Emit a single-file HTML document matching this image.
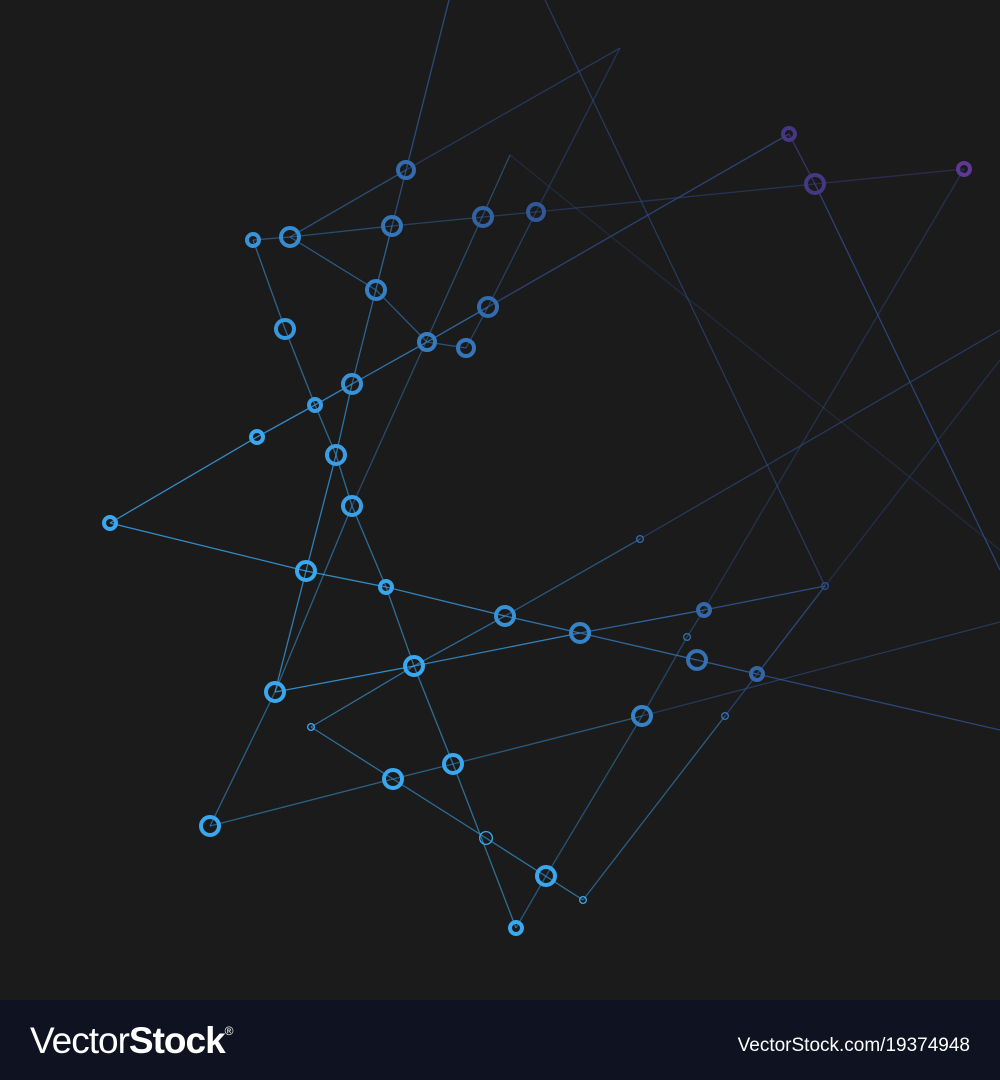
<!DOCTYPE html>
<html><head><meta charset="utf-8">
<style>
html,body{margin:0;padding:0;background:#1b1b1b;}
#wrap{position:relative;width:1000px;height:1080px;overflow:hidden;background:#1b1b1b;font-family:"Liberation Sans",sans-serif;}
#footer{position:absolute;left:0;top:1000px;width:1000px;height:80px;background:#0f1220;}
#brand{position:absolute;left:30px;top:20px;color:#fff;font-size:37px;letter-spacing:-1px;}
#brand b{font-weight:700;}
#brand sup{font-size:12px;vertical-align:top;position:relative;top:4px;}
#url{position:absolute;right:30px;top:35px;color:#fff;font-size:19px;}
</style></head>
<body>
<div id="wrap">
<svg id="net" width="1000" height="1000"></svg>
<div id="footer">
<div id="brand">Vector<b>Stock</b><sup>®</sup></div>
<div id="url">VectorStock.com/19374948</div>
</div>
</div>
<script>
const lines = [
 [[449,0],[392,226],[352,384],[336,455],[306,571],[275,692]],
 [[620,48],[406,170],[290,237]],
 [[620,48],[536,212],[488,307],[466,348]],
 [[545,0],[825,586],[725,716],[583,900],[486,838],[393,779],[311,727],[414,666],[505,616],[640,539],[1000,330]],
 [[110,523],[257,437],[315,405],[352,384],[427,342],[488,307],[789,134],[815,184],[1000,570]],
 [[110,523],[306,571],[386,587],[505,616],[580,633],[697,660],[757,674],[1000,730]],
 [[253,240],[290,237],[392,226],[483,217],[536,212],[815,184],[964,169]],
 [[253,240],[285,329],[315,405],[336,455],[352,506],[386,587],[414,666],[453,764],[516,928]],
 [[290,237],[376,290],[427,342],[466,348]],
 [[510,155],[1000,550]],
 [[510,155],[352,506],[275,692],[210,826]],
 [[275,692],[414,666],[580,633],[704,610],[825,586]],
 [[210,826],[393,779],[453,764],[642,716],[1000,622]],
 [[516,928],[546,876],[642,716],[687,637],[704,610],[964,169]],
 [[757,674],[1000,360]]
];
const lineOpacity = [0.7,0.55,0.5,0.6,0.8,0.8,0.5,0.6,0.6,0.3,0.5,0.8,0.5,0.45,0.4];
const nodeX = [253,290,406,392,483,536,376,488,427,466,285,352,315,257,336,352,110,306,386,505,580,414,275,697,704,757,642,311,393,453,210,486,546,583,516,789,815,964,640,825,725,687];
const nodeY = [240,237,170,226,217,212,290,307,342,348,329,384,405,437,455,506,523,571,587,616,633,666,692,660,610,674,716,727,779,764,826,838,876,900,928,134,184,169,539,586,716,637];
const nodeR = [8,11,10,11,11,10,11,11,10,10,11,11,8,8,11,11,8,11,8,11,11,11,11,11,8,8,11,4,11,11,11,7,11,4,8,8,11,8,4,4,4,4];
const nodeW = [4,4,4,4,4,4,4,4,4,4,4,4,4,4,4,4,4,4,4,4,4,4,4,4,4,4,4,1.3,4,4,4,1.3,4,1.3,4,4,4,4,1.3,1.3,1.3,1.3];
function colorAt(x,y){
  const t=Math.min(1,Math.max(0,(x-250)/450 + (400-y)/700));
  const a=[58,168,240], b=[48,78,140];
  let c=a.map((v,i)=>Math.round(v+(b[i]-v)*t));
  if(y<200 && x>750){c=[70,55,130]; if(x>900)c=[95,55,150];}
  return `rgb(${c[0]},${c[1]},${c[2]})`;
}
const svg=document.getElementById('net');
const NS='http://www.w3.org/2000/svg';
lines.forEach((pts,li)=>{
  for(let i=0;i<pts.length-1;i++){
    const [x1,y1]=pts[i],[x2,y2]=pts[i+1];
    const l=document.createElementNS(NS,'line');
    
    
    l.setAttribute('x1',x1);l.setAttribute('y1',y1);l.setAttribute('x2',x2);l.setAttribute('y2',y2);
    l.setAttribute('stroke',colorAt((x1+x2)/2,(y1+y2)/2));
    l.setAttribute('stroke-width',1.3);
    l.setAttribute('stroke-opacity',lineOpacity[li]);
    svg.appendChild(l);
  }
});
nodeX.forEach((x,i)=>{
  const y=nodeY[i];
  const c=document.createElementNS(NS,'circle');
  
  
  c.setAttribute('cx',x);c.setAttribute('cy',y);
  c.setAttribute('r',nodeR[i]-nodeW[i]/2);
  c.setAttribute('fill','none');
  c.setAttribute('stroke',colorAt(x,y));
  c.setAttribute('stroke-width',nodeW[i]);
  svg.appendChild(c);
});
</script>
</body></html>
